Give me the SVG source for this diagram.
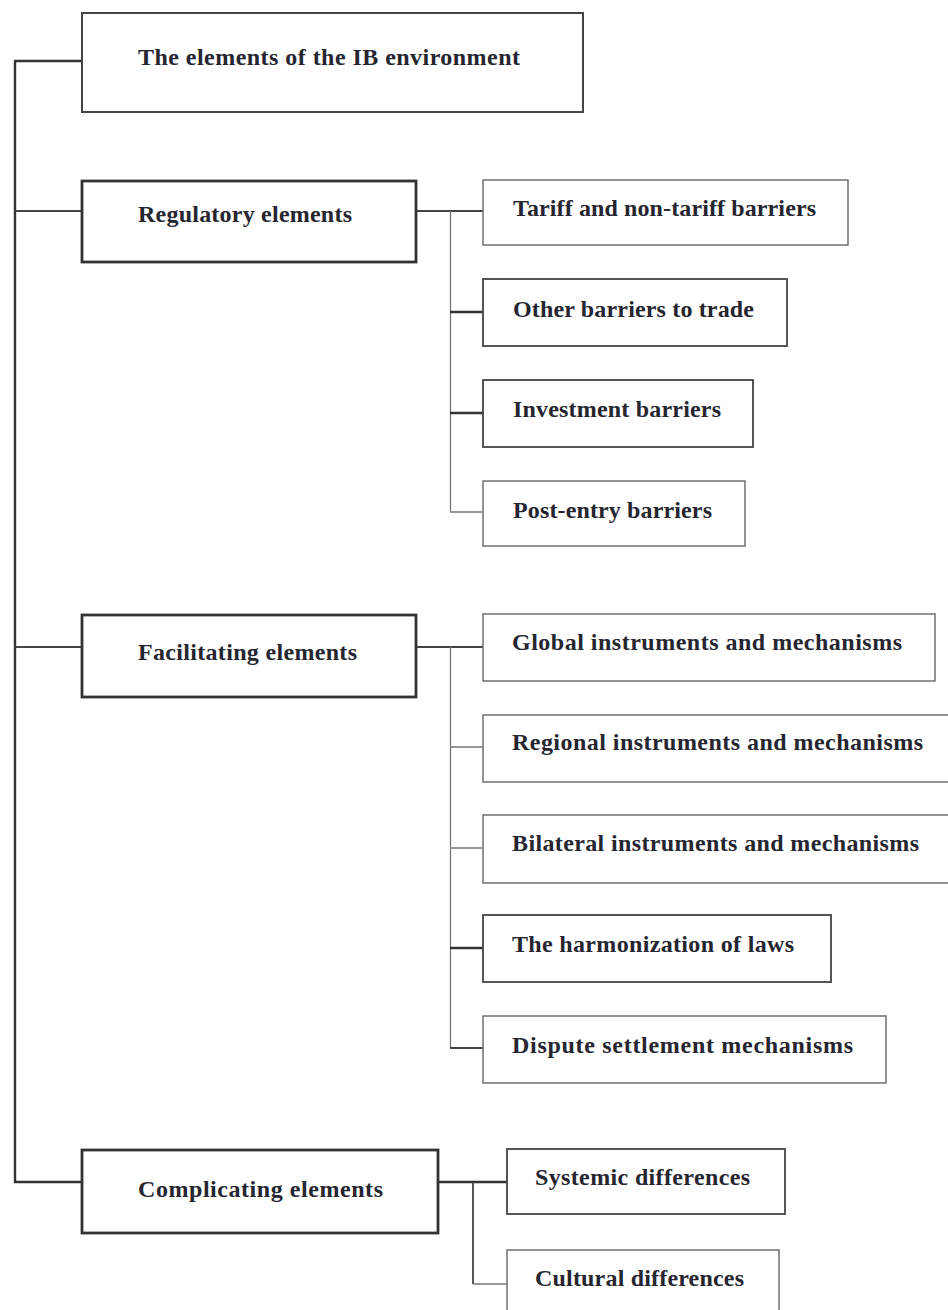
<svg xmlns="http://www.w3.org/2000/svg" width="948" height="1310" viewBox="0 0 948 1310">
<style>
  .bg { fill: #ffffff; }
  .main { fill: #ffffff; stroke: #333; stroke-width: 2.8; }
  .top { fill: #ffffff; stroke: #444; stroke-width: 2; }
  .child { fill: #ffffff; stroke: #666; stroke-width: 1.4; }
  .childd { fill: #ffffff; stroke: #444; stroke-width: 1.8; }
  .lbl { font-family: "Liberation Serif", "Times New Roman", serif; font-weight: bold; font-size: 24px; fill: #262630; }
  .thick { stroke: #333; stroke-width: 2.4; fill: none; }
  .mid { stroke: #444; stroke-width: 1.8; fill: none; }
  .thin { stroke: #777; stroke-width: 1.3; fill: none; }
</style>
<rect class="bg" x="0" y="0" width="948" height="1310"/>

<g id="connectors">
  <line class="thick" x1="15" y1="61" x2="15" y2="1183"/>
  <line class="thick" x1="14" y1="61" x2="82" y2="61"/>
  <line class="mid" x1="15" y1="211" x2="82" y2="211"/>
  <line class="mid" x1="15" y1="647" x2="82" y2="647"/>
  <line class="thick" x1="14" y1="1182" x2="82" y2="1182"/>

  <line class="mid" x1="416" y1="211" x2="483" y2="211"/>
  <line class="thin" x1="450.5" y1="211" x2="450.5" y2="512"/>
  <line class="thick" x1="450" y1="312" x2="483" y2="312"/>
  <line class="thick" x1="450" y1="413" x2="483" y2="413"/>
  <line class="thin" x1="450" y1="512" x2="483" y2="512"/>

  <line class="mid" x1="416" y1="647" x2="483" y2="647"/>
  <line class="thin" x1="450.5" y1="647" x2="450.5" y2="1048"/>
  <line class="thin" x1="450" y1="747" x2="483" y2="747"/>
  <line class="thin" x1="450" y1="848" x2="483" y2="848"/>
  <line class="thick" x1="450" y1="948" x2="483" y2="948"/>
  <line class="mid" x1="450" y1="1048" x2="483" y2="1048"/>

  <line class="thick" x1="438" y1="1182" x2="507" y2="1182"/>
  <line class="mid" x1="473" y1="1182" x2="473" y2="1284"/>
  <line class="thin" x1="473" y1="1284" x2="507" y2="1284"/>
</g>

<g id="root">
  <rect class="top" x="82" y="13" width="501" height="99"/>
  <text class="lbl" x="138" y="65" textLength="382">The elements of the IB environment</text>
</g>

<g id="regulatory">
  <rect class="main" x="82" y="181" width="334" height="81"/>
  <text class="lbl" x="138" y="222" textLength="214">Regulatory elements</text>
</g>
<g id="tariff">
  <rect class="child" x="483" y="180" width="365" height="65"/>
  <text class="lbl" x="513" y="216" textLength="303">Tariff and non-tariff barriers</text>
</g>
<g id="other">
  <rect class="childd" x="483" y="279" width="304" height="67"/>
  <text class="lbl" x="513" y="317" textLength="241">Other barriers to trade</text>
</g>
<g id="investment">
  <rect class="childd" x="483" y="380" width="270" height="67"/>
  <text class="lbl" x="513" y="417" textLength="208">Investment barriers</text>
</g>
<g id="postentry">
  <rect class="child" x="483" y="481" width="262" height="65"/>
  <text class="lbl" x="513" y="518" textLength="199">Post-entry barriers</text>
</g>

<g id="facilitating">
  <rect class="main" x="82" y="615" width="334" height="82"/>
  <text class="lbl" x="138" y="660" textLength="219">Facilitating elements</text>
</g>
<g id="global">
  <rect class="child" x="483" y="614" width="452" height="67"/>
  <text class="lbl" x="512" y="650" textLength="390">Global instruments and mechanisms</text>
</g>
<g id="regional">
  <rect class="child" x="483" y="715" width="470" height="67"/>
  <text class="lbl" x="512" y="750" textLength="411">Regional instruments and mechanisms</text>
</g>
<g id="bilateral">
  <rect class="child" x="483" y="815" width="470" height="68"/>
  <text class="lbl" x="512" y="851" textLength="407">Bilateral instruments and mechanisms</text>
</g>
<g id="harmonization">
  <rect class="childd" x="483" y="915" width="348" height="67"/>
  <text class="lbl" x="512" y="952" textLength="282">The harmonization of laws</text>
</g>
<g id="dispute">
  <rect class="child" x="483" y="1016" width="403" height="67"/>
  <text class="lbl" x="512" y="1053" textLength="341">Dispute settlement mechanisms</text>
</g>

<g id="complicating">
  <rect class="main" x="82" y="1150" width="356" height="83"/>
  <text class="lbl" x="138" y="1197" textLength="245">Complicating elements</text>
</g>
<g id="systemic">
  <rect class="childd" x="507" y="1149" width="278" height="65"/>
  <text class="lbl" x="535" y="1185" textLength="215">Systemic differences</text>
</g>
<g id="cultural">
  <rect class="child" x="507" y="1250" width="272" height="70"/>
  <text class="lbl" x="535" y="1286" textLength="209">Cultural differences</text>
</g>
</svg>
